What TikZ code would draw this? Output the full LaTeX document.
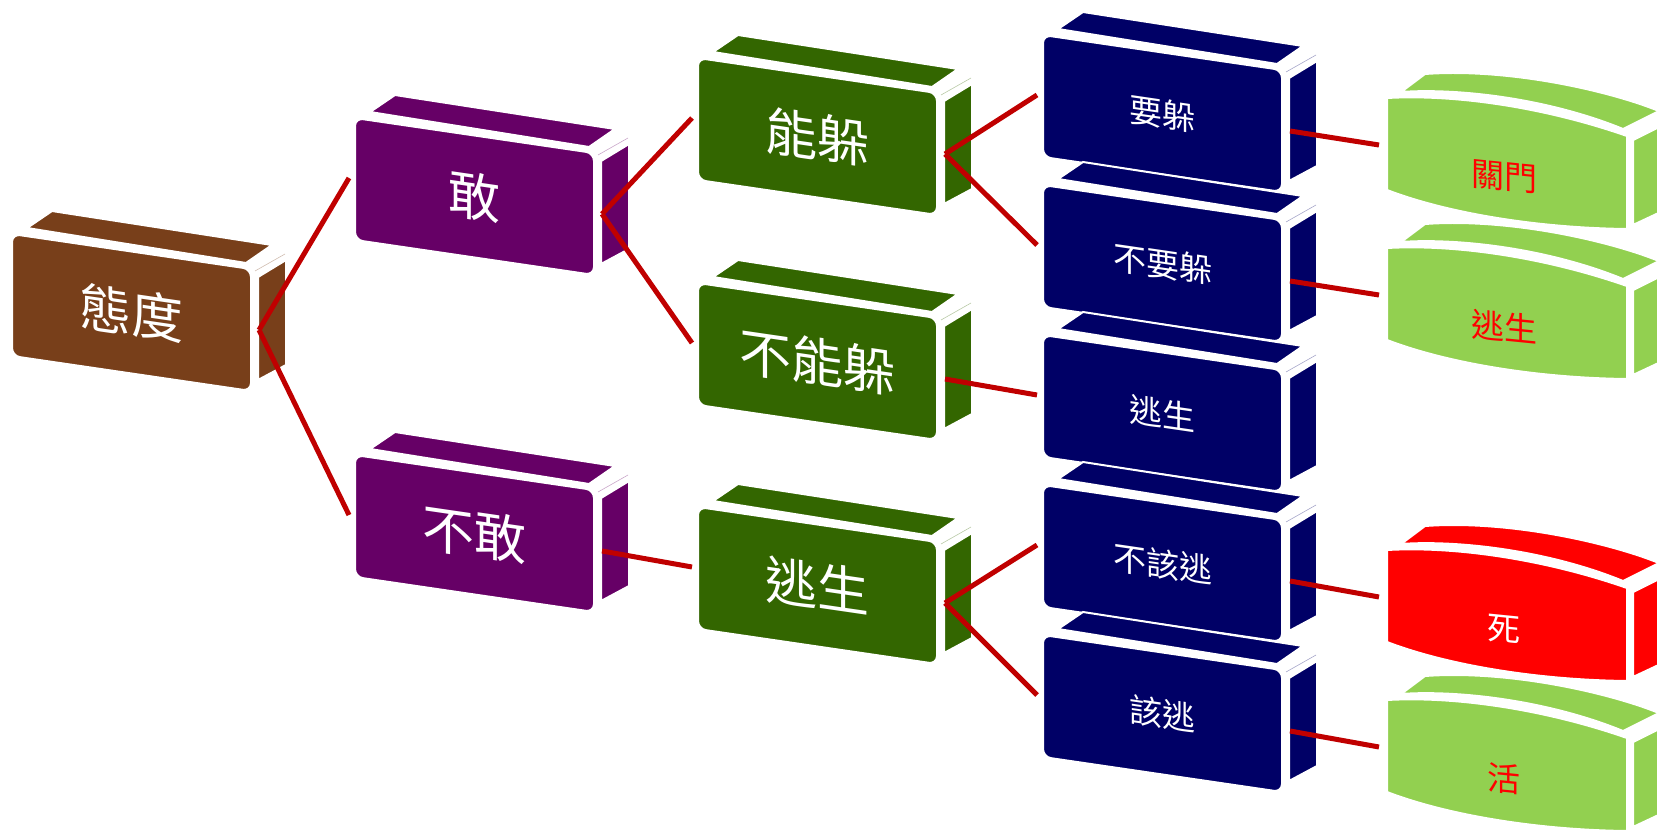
\documentclass[tikz,border=0pt]{standalone}
\usepackage{fontspec}
\newfontfamily\cjk{Noto Sans CJK TC}
\definecolor{cbrown}{HTML}{783F1A}
\definecolor{cpurple}{HTML}{660066}
\definecolor{cdgreen}{HTML}{336600}
\definecolor{cnavy}{HTML}{000066}
\definecolor{clgreen}{HTML}{92D050}
\definecolor{cred}{HTML}{FF0000}
\definecolor{cline}{HTML}{C00000}
\tikzset{
  face/.style={fill=#1, draw=white, line width=2pt},
  conn/.style={draw=cline, line width=5pt},
  bigtext/.style={font=\cjk\fontsize{52}{56}\selectfont, text=white},
  smalltext/.style={font=\cjk\fontsize{33}{36}\selectfont, text=white},
  restext/.style={font=\cjk\fontsize{33}{36}\selectfont},
}
% name, x, y, colour, text, text style
\newcommand{\blockbox}[6]{%
  \begin{scope}[shift={(#2,#3)}]
    \path[face=#4] (15,-6) -- (40,-23) -- (260,11) -- (234,29) -- cycle;
    \path[face=#4] (246,43) -- (274,26) -- (274,131) -- (246,146) -- cycle;
    \draw[white!65!#4, line width=0.6pt] (243,37) -- (273,20);
    \path[face=#4, rounded corners=8pt] (0,0) -- (239,35) -- (239,157) -- (0,122) -- cycle;
    \node[#6, yslant=-0.146] (#1) at (119.5,79) {#5};
    \coordinate (#1-in) at (-6,60);
    \coordinate (#1-out) at (247,96);
  \end{scope}}
% name, x, y, fill, text colour, text
\newcommand{\resbox}[6]{%
  \begin{scope}[shift={(#2,#3)}]
    \path[face=#4] (14,-6) .. controls (70,-10) and (160,0) .. (236,31)
      -- (272,13) .. controls (220,-8) and (120,-30) .. (38,-24) -- cycle;
    \path[face=#4] (246,42) -- (278,26) -- (278,112) -- (246,127) -- cycle;
    \path[face=#4] (0,0) .. controls (70,-4) and (160,10) .. (240,38)
      -- (240,131) .. controls (150,130) and (60,115) .. (0,92) -- cycle;
    \node[restext, text=#5, yslant=-0.1] (#1) at (117,79) {#6};
    \coordinate (#1-in) at (-8,47);
  \end{scope}}

\begin{document}
\begin{tikzpicture}[x=1pt,y=-1pt]
  \useasboundingbox (0,0) rectangle (1657,832);
  \clip (0,0) rectangle (1657,832);

  \blockbox{td}{12}{234}{cbrown}{態度}{bigtext}
  \blockbox{g}{355}{118}{cpurple}{敢}{bigtext}
  \blockbox{bg}{355}{455}{cpurple}{不敢}{bigtext}
  \blockbox{nd}{698}{58}{cdgreen}{能躲}{bigtext}
  \blockbox{bnd}{698}{283}{cdgreen}{不能躲}{bigtext}
  \blockbox{tsa}{698}{507}{cdgreen}{逃生}{bigtext}

  \blockbox{yd}{1043}{35}{cnavy}{要躲}{smalltext}
  \blockbox{byd}{1043}{185}{cnavy}{不要躲}{smalltext}
  \blockbox{tsb}{1043}{335}{cnavy}{逃生}{smalltext}
  \blockbox{bgt}{1043}{485}{cnavy}{不該逃}{smalltext}
  \blockbox{gt}{1043}{635}{cnavy}{該逃}{smalltext}

  \resbox{gm}{1387}{98}{clgreen}{cred}{關門}
  \resbox{tsc}{1387}{248}{clgreen}{cred}{逃生}
  \resbox{si}{1387}{550}{cred}{white}{死}
  \resbox{huo}{1387}{700}{clgreen}{cred}{活}

  \draw[conn] (td-out) -- (g-in);
  \draw[conn] (td-out) -- (bg-in);
  \draw[conn] (g-out) -- (nd-in);
  \draw[conn] (g-out) -- (bnd-in);
  \draw[conn] (bg-out) -- (tsa-in);
  \draw[conn] (nd-out) -- (yd-in);
  \draw[conn] (nd-out) -- (byd-in);
  \draw[conn] (bnd-out) -- (tsb-in);
  \draw[conn] (tsa-out) -- (bgt-in);
  \draw[conn] (tsa-out) -- (gt-in);
  \draw[conn] (yd-out) -- (gm-in);
  \draw[conn] (byd-out) -- (tsc-in);
  \draw[conn] (bgt-out) -- (si-in);
  \draw[conn] (gt-out) -- (huo-in);
\end{tikzpicture}
\end{document}
